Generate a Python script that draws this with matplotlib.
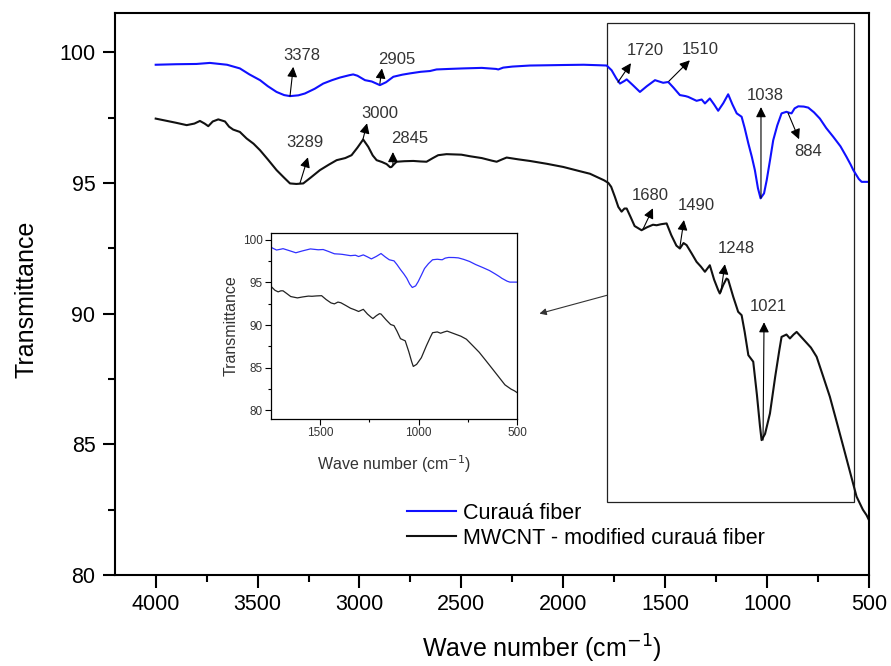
import numpy as np
import matplotlib
matplotlib.use('Agg')
import matplotlib.pyplot as plt
from matplotlib.patches import Rectangle

plt.rcParams['font.family'] = ['Liberation Sans', 'DejaVu Sans']

# Curauá fiber (blue)
wn_blue = [4000, 3900, 3800, 3734, 3650, 3587, 3540, 3488, 3450, 3407, 3370, 3341,
           3300, 3268, 3220, 3178, 3135, 3096, 3050, 3031, 3010, 2973, 2940, 2900,
           2870, 2834, 2790, 2752, 2700, 2654, 2622, 2560, 2491, 2400, 2330, 2319,
           2295, 2250, 2164, 2080, 2000, 1900, 1820, 1787, 1763, 1740, 1722, 1700,
           1689, 1660, 1624, 1590, 1550, 1530, 1510, 1485, 1460, 1428, 1400, 1387,
           1346, 1321, 1305, 1281, 1260, 1240, 1215, 1191, 1170, 1149, 1125, 1110,
           1092, 1075, 1060, 1045, 1032, 1015, 1002, 985, 970, 950, 929, 905, 890,
           880, 865, 847, 820, 798, 770, 741, 710, 675, 640, 610, 590, 577, 550,
           536, 500]
t_blue = [99.52, 99.54, 99.55, 99.59, 99.52, 99.38, 99.15, 98.93, 98.70, 98.48, 98.36, 98.32,
          98.35, 98.42, 98.60, 98.80, 98.93, 99.03, 99.12, 99.15, 99.10, 98.93, 98.88, 98.74,
          98.85, 99.06, 99.14, 99.19, 99.25, 99.28, 99.34, 99.36, 99.38, 99.40, 99.36, 99.34,
          99.41, 99.45, 99.49, 99.50, 99.51, 99.52, 99.50, 99.49, 99.31, 99.00, 98.80, 98.90,
          98.96, 98.75, 98.48, 98.70, 98.93, 98.88, 98.83, 98.86, 98.65, 98.36, 98.32, 98.29,
          98.14, 98.19, 98.04, 98.23, 98.00, 97.76, 98.05, 98.39, 98.00, 97.66, 97.53, 97.10,
          96.51, 96.00, 95.49, 94.80, 94.41, 94.60, 95.10, 95.90, 96.63, 97.20, 97.66, 97.72, 97.68,
          97.66, 97.85, 97.93, 97.92, 97.88, 97.70, 97.46, 97.10, 96.76, 96.40, 95.99, 95.70, 95.49, 95.15,
          95.04, 95.04]

# MWCNT - modified curauá fiber (black)
wn_black = [4000, 3950, 3900, 3848, 3810, 3783, 3760, 3742, 3720, 3693, 3660, 3640,
            3620, 3587, 3554, 3520, 3488, 3450, 3407, 3370, 3341, 3310, 3276, 3240,
            3194, 3150, 3112, 3070, 3039, 3010, 2982, 2957, 2935, 2916, 2890, 2867,
            2850, 2843, 2830, 2818, 2780, 2736, 2700, 2671, 2640, 2614, 2573, 2500,
            2458, 2400, 2350, 2327, 2300, 2278, 2220, 2164, 2080, 2000, 1920, 1869,
            1836, 1800, 1779, 1765, 1747, 1730, 1714, 1700, 1689, 1670, 1650, 1616,
            1590, 1560, 1542, 1520, 1493, 1470, 1445, 1428, 1410, 1395, 1370, 1346,
            1325, 1305, 1281, 1260, 1240, 1232, 1215, 1199, 1191, 1166, 1142, 1125,
            1110, 1092, 1068, 1050, 1035, 1027, 1010, 986, 960, 940, 929, 905, 888,
            870, 855, 820, 785, 757, 725, 692, 660, 626, 595, 561, 530, 512, 500]
t_black = [97.46, 97.38, 97.30, 97.21, 97.27, 97.37, 97.27, 97.17, 97.35, 97.43, 97.35, 97.15,
           97.04, 96.95, 96.70, 96.50, 96.25, 95.90, 95.49, 95.20, 94.98, 94.96, 94.98, 95.20,
           95.49, 95.70, 95.87, 95.95, 96.06, 96.35, 96.66, 96.38, 96.05, 95.87, 95.80, 95.72,
           95.60, 95.61, 95.72, 95.81, 95.83, 95.84, 95.82, 95.81, 95.95, 96.06, 96.10, 96.08,
           96.02, 95.95, 95.85, 95.81, 95.90, 95.97, 95.90, 95.84, 95.73, 95.61, 95.45, 95.35,
           95.23, 95.10, 95.00, 94.85, 94.47, 94.08, 93.90, 94.02, 94.02, 93.70, 93.35, 93.19,
           93.30, 93.40, 93.38, 93.42, 93.45, 93.00, 92.60, 92.49, 92.70, 92.62, 92.30, 91.98,
           91.80, 91.60, 91.85, 91.30, 90.90, 90.77, 91.10, 91.34, 91.30, 90.64, 90.07, 89.94,
           89.30, 88.41, 88.16, 86.90, 85.70, 85.16, 85.40, 86.18, 87.60, 88.60, 89.11, 89.20, 89.05,
           89.20, 89.30, 89.00, 88.70, 88.35, 87.60, 86.82, 85.90, 84.91, 84.00, 83.00, 82.50, 82.29, 82.10]

# peak labels: (text, text position, arrow tail, arrow head)
peak_labels = ['3378', '2905', '3289', '3000', '2845', '1720', '1510', '1038', '884',
               '1680', '1490', '1248', '1021']
label_xy = [(3284, 99.89), (2818, 99.72), (3268, 96.53), (2900, 97.66), (2753, 96.70),
            (1599, 100.08), (1330, 100.10), (1011, 98.33), (800, 96.19),
            (1575, 94.53), (1346, 94.15), (1149, 92.49), (994, 90.29)]
arrow_tail = [(3341, 98.32), (2900, 98.80), (3292, 94.99), (2983, 96.67), (2836, 95.68),
              (1732, 98.85), (1482, 98.89), (1030, 94.42), (897, 97.67),
              (1609, 93.23), (1428, 92.54), (1227, 90.82), (1020, 85.16)]
arrow_head = [(3325, 99.44), (2890, 99.38), (3253, 95.98), (2963, 97.28), (2836, 96.18),
              (1668, 99.58), (1379, 99.69), (1030, 97.90), (843, 96.67),
              (1560, 94.03), (1408, 93.58), (1207, 91.89), (1015, 89.67)]

fig = plt.figure(figsize=(8.91, 6.66), dpi=100)
ax = fig.add_axes([0.129, 0.1366, 0.8463, 0.8439])

ax.plot(wn_blue, t_blue, color='#1010ff', lw=1.5, label='Curauá fiber')
ax.plot(wn_black, t_black, color='#111111', lw=1.5, label='MWCNT - modified curauá fiber')

ax.set_xlim(4200, 500)
ax.set_ylim(80, 101.5)
ax.set_xticks([4000, 3500, 3000, 2500, 2000, 1500, 1000, 500])
ax.set_xticks(np.arange(3750, 500, -500), minor=True)
ax.set_yticks([80, 85, 90, 95, 100])
ax.set_yticks([82.5, 87.5, 92.5, 97.5], minor=True)
ax.tick_params(which='major', direction='out', length=9, width=1.5, labelsize=15.5, pad=5)
ax.tick_params(which='minor', direction='out', length=5, width=1.5)
ax.tick_params(top=False, right=False)
for s in ax.spines.values():
    s.set_linewidth(1.5)

ax.set_xlabel('Wave number (cm$^{-1}$)', fontsize=18)
ax.xaxis.set_label_coords(0.566, -0.102)
ax.set_ylabel('Transmittance', fontsize=18)
ax.yaxis.set_label_coords(-0.102, 0.49)

for txt, pos, tail, head in zip(peak_labels, label_xy, arrow_tail, arrow_head):
    ax.annotate('', xy=head, xytext=tail,
                arrowprops=dict(arrowstyle='-|>', color='k', lw=0.8,
                                mutation_scale=15, shrinkA=0, shrinkB=0))
    ax.text(pos[0], pos[1], txt, fontsize=12, color='#333333',
            ha='center', va='center')

# box around the fingerprint region
ax.add_patch(Rectangle((1786, 82.8), 574 - 1786, 101.1 - 82.8,
                       fill=False, ec='#222222', lw=0.9, zorder=1))
ax.annotate('', xy=(2117, 90.0), xytext=(1786, 90.7),
            arrowprops=dict(arrowstyle='-|>', color='#333333', lw=0.8,
                            mutation_scale=10, shrinkA=0, shrinkB=0))

ax.legend(loc='upper left', bbox_to_anchor=(0.387, 0.129), frameon=False,
          fontsize=15.5, handlelength=2.3, handletextpad=0.3, labelspacing=0.2,
          borderaxespad=0, borderpad=0)

# inset
axi = fig.add_axes([0.3042, 0.3709, 0.276, 0.2793])
axi.plot(wn_blue, t_blue, color='#3030ff', lw=0.9)
axi.plot(wn_black, t_black, color='#222222', lw=0.9)
axi.set_xlim(1750, 500)
axi.set_ylim(79, 100.8)
axi.set_xticks([1500, 1000, 500])
axi.set_xticks([1250, 750], minor=True)
axi.set_yticks([80, 85, 90, 95, 100])
axi.set_yticks([82.5, 87.5, 92.5, 97.5], minor=True)
axi.tick_params(which='major', direction='out', length=4, width=0.8, labelsize=8.5, pad=2,
                labelcolor='#333333')
axi.tick_params(which='minor', direction='out', length=2.5, width=0.8)
for s in axi.spines.values():
    s.set_linewidth(0.9)
axi.set_xlabel('Wave number (cm$^{-1}$)', fontsize=11.5, color='#333333', labelpad=10)
axi.set_ylabel('Transmittance', fontsize=11.5, color='#333333', labelpad=3)

fig.savefig('out.png', dpi=100)
